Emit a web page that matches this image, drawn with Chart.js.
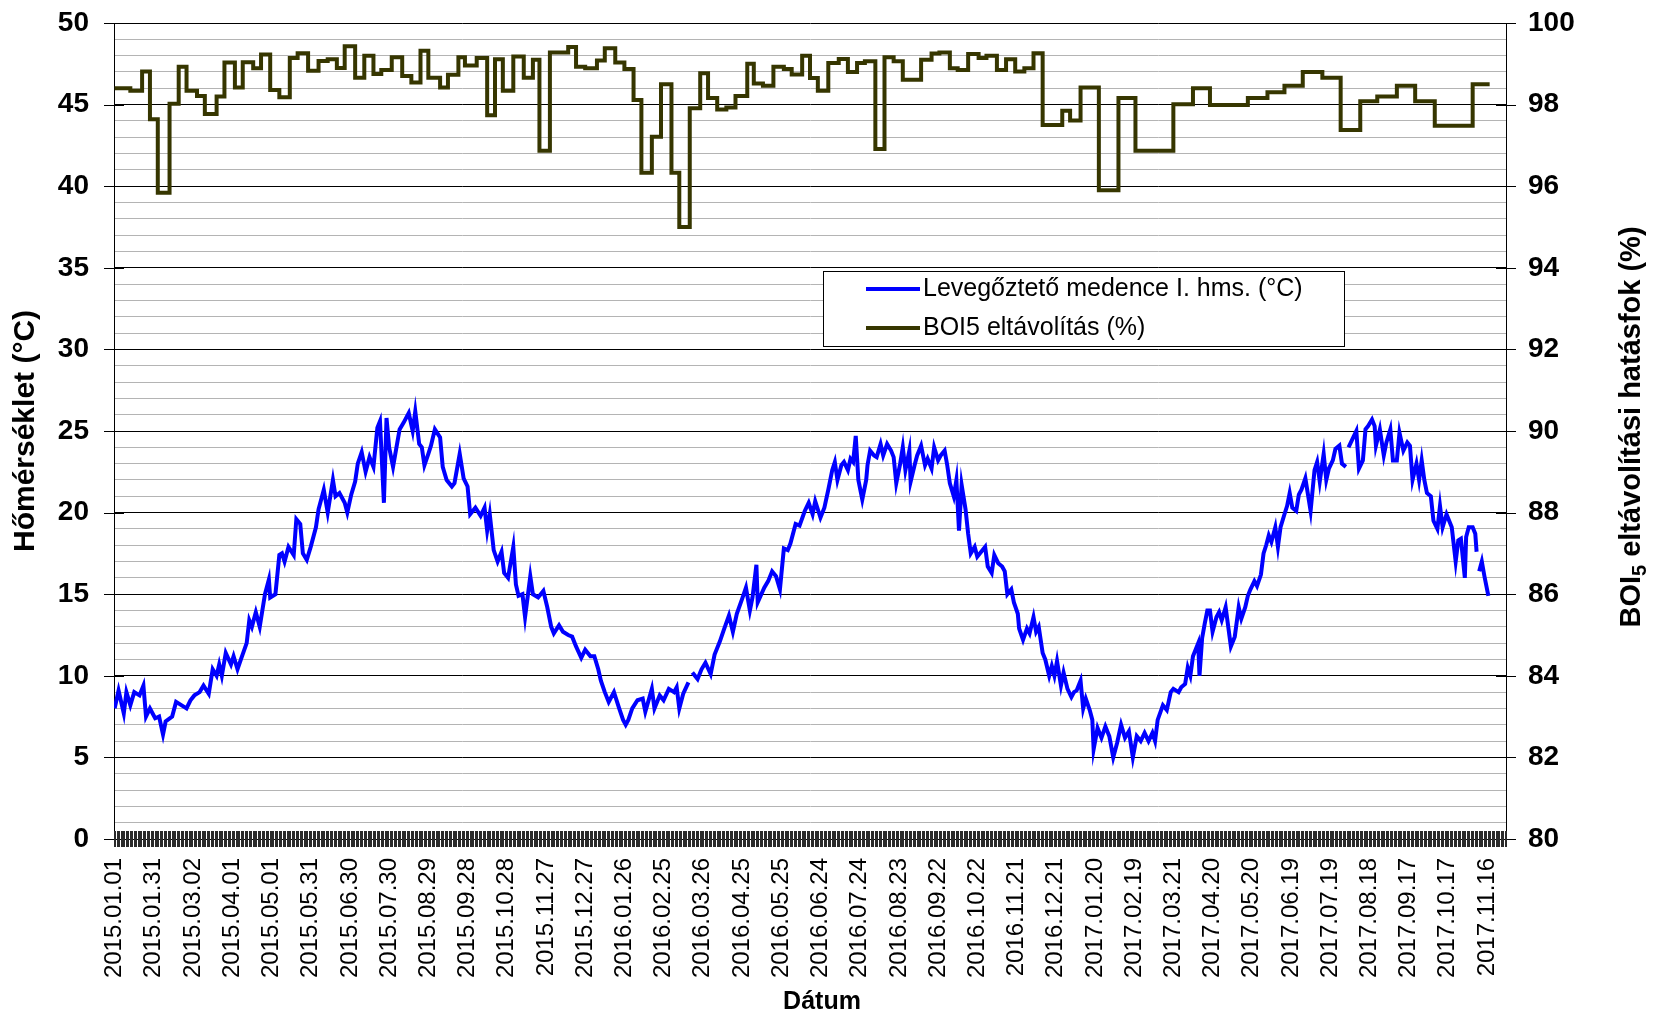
<!DOCTYPE html>
<html>
<head>
<meta charset="utf-8">
<script src="https://cdn.jsdelivr.net/npm/chart.js@4.4.1/dist/chart.umd.min.js"></script>
<style>
  body { margin: 0; background: #fff; }
  #wrap { width: 1653px; height: 1015px; }
</style>
</head>
<body>
<div id="wrap"><canvas id="myCanvas" width="1653" height="1015"></canvas></div>
<script>
// day index = days since 2015.01.01
const startDate = Date.UTC(2015, 0, 1);
const lastDay = 1064;
const labelStep = 30;

const tempLabel = 'Levegőztető medence I. hms. (°C)';
const boiLabel = 'BOI5 eltávolítás (%)';

const tempDays = [
  0, 3, 7, 9, 12, 15, 19, 22, 24, 27, 31, 34, 37, 39, 44, 47, 51, 55, 58, 61, 65, 68, 72, 75, 78, 80, 82, 85, 89, 91, 94, 97,
  101, 103, 105, 108, 111, 113, 115, 118, 119, 123, 126, 128, 130, 133, 137, 139, 142, 144, 147, 150, 154, 156, 160, 163, 167, 169,
  172, 176, 178, 181, 184, 186, 189, 192, 195, 198, 201, 203, 206, 208, 210, 213, 218, 221, 225, 228, 230, 233, 235, 237, 240, 242,
  245, 249, 251, 254, 258, 260, 264, 267, 270, 272, 276, 280, 283, 285, 287, 290, 293, 296, 298, 301, 305, 307, 309, 312, 314, 318,
  320, 324, 328, 331, 334, 336, 340, 343, 347, 350, 353, 357, 360, 364, 367, 370, 372, 375, 378, 382, 386, 389, 391, 393, 396, 400,
  404, 406, 411, 413, 417, 420, 424, 428, 430, 432, 435, 439, 440, 442, 446, 449, 452, 456, 459, 463, 466, 470, 473, 476, 480, 483,
  486, 488, 491, 492, 497, 500, 503, 506, 509, 512, 515, 517, 521, 524, 528, 531, 534, 536, 540, 543, 546, 549, 551, 553, 556, 558,
  561, 563, 565, 567, 569, 572, 575, 576, 578, 581, 583, 586, 588, 591, 594, 596, 598, 601, 603, 605, 608, 609, 612, 614, 617, 620,
  622, 625, 627, 630, 632, 635, 637, 639, 642, 644, 646, 648, 651, 653, 655, 658, 660, 663, 666, 668, 671, 673, 676, 679, 681, 683,
  686, 688, 691, 692, 695, 698, 700, 703, 705, 707, 710, 712, 715, 717, 719, 721, 724, 726, 729, 732, 734, 736, 739, 741, 743, 746,
  748, 749, 752, 755, 758, 761, 764, 767, 770, 773, 776, 779, 782, 785, 788, 791, 794, 796, 798, 802, 805, 808, 810, 814, 816, 819,
  821, 823, 825, 827, 829, 830, 832, 834, 836, 838, 840, 843, 845, 847, 850, 853, 854, 857, 860, 862, 865, 867, 869, 872, 874, 877,
  879, 881, 883, 885, 888, 890, 892, 895, 897, 899, 901, 904, 906, 908, 911, 913, 915, 918, 920, 922, 925, 927, 929, 932, 934, 937,
  939, 942, 943, 944, 947, 950, 952, 955, 957, 959, 962, 964, 965, 968, 971, 973, 976, 978, 981, 983, 986, 989, 991, 993, 996, 998,
  1000, 1002, 1004, 1007, 1009, 1012, 1014, 1016, 1019, 1022, 1023, 1026, 1028, 1030, 1033, 1034, 1036, 1039, 1041, 1042, 1043, 1044,
  1046, 1048, 1051
];
const tempValues = [
  8.0, 9.1, 7.7, 9.0, 8.2, 9.0, 8.8, 9.4, 7.5, 8.0, 7.4, 7.5, 6.4, 7.2, 7.5, 8.4, 8.2, 8.0, 8.5, 8.8, 9.0, 9.4, 8.9, 10.4, 10.0, 10.7, 10.0, 11.4, 10.7, 11.2, 10.4, 11.1,
  12.0, 13.4, 13.0, 13.9, 13.0, 14.0, 15.0, 15.9, 14.8, 15.0, 17.4, 17.5, 17.0, 17.9, 17.4, 19.6, 19.3, 17.5, 17.1, 17.9, 19.1, 20.2, 21.4, 20.0, 22.0, 21.0,
  21.2, 20.6, 20.0, 21.1, 21.9, 23.0, 23.7, 22.5, 23.4, 22.8, 25.2, 25.6, 20.6, 25.8, 24.0, 22.8, 25.1, 25.5, 26.1, 25.0, 26.2, 24.2, 24.0, 22.9, 23.6, 24.1,
  25.1, 24.6, 22.8, 22.0, 21.6, 21.8, 23.6, 22.1, 21.6, 19.9, 20.3, 19.8, 20.3, 18.9, 19.9, 17.7, 17.0, 17.6, 16.3, 16.0, 17.9, 15.6, 14.9, 15.0, 13.6, 16.1,
  15.0, 14.8, 15.2, 14.2, 13.0, 12.6, 13.1, 12.7, 12.5, 12.4, 11.8, 11.1, 11.6, 11.2, 11.2, 10.4, 9.7, 9.0, 8.4, 9.0, 8.0, 7.3, 7.0, 7.3, 8.0, 8.5,
  8.6, 7.8, 9.2, 8.0, 8.8, 8.5, 9.2, 9.0, 9.3, 8.0, 8.9, 9.6, null, 10.2, 9.8, 10.4, 10.8, 10.1, 11.3, 12.1, 12.8, 13.7, 12.7, 13.8, 14.7, 15.4,
  14.0, 14.8, 16.8, 14.5, 15.4, 15.8, 16.4, 16.1, 15.3, 17.8, 17.7, 18.1, 19.3, 19.2, 20.1, 20.6, 19.9, 20.7, 19.7, 20.3, 21.4, 22.6, 23.1, 22.0, 22.9, 23.1,
  22.6, 23.3, 23.1, 24.7, 22.0, 20.8, 22.0, 22.9, 23.8, 23.5, 23.4, 24.2, 23.5, 24.2, 23.8, 23.4, 21.8, 23.0, 24.0, 22.6, 23.8, 21.9, 22.9, 23.5, 24.1, 22.9,
  23.3, 22.7, 24.0, 23.2, 23.5, 23.8, 22.9, 21.8, 21.0, 22.0, 18.9, 21.7, 20.2, 18.7, 17.5, 17.9, 17.3, 17.6, 17.9, 16.7, 16.3, 17.4, 16.9, 16.7, 16.4, 15.0,
  15.3, 14.5, 13.8, 12.9, 12.2, 12.9, 12.6, 13.6, 12.7, 13.0, 11.4, 11.0, 10.0, 10.6, 10.0, 10.9, 9.4, 10.2, 9.2, 8.7, 9.0, 9.1, 9.7, 8.0, 8.6, 7.9,
  7.3, 5.5, 6.8, 6.2, 6.9, 6.3, 5.0, 5.9, 7.0, 6.2, 6.6, 5.0, 6.3, 6.0, 6.5, 6.0, 6.5, 6.0, 7.3, 8.2, 7.9, 9.0, 9.2, 9.0, 9.3, 9.5,
  10.5, 10.0, 11.2, 11.6, 12.0, 10.0, 12.3, 13.2, 14.0, 14.0, 12.7, 13.6, 13.9, 13.4, 14.2, 12.4, 11.8, 12.4, 14.2, 13.5, 14.2, 14.9, 15.3, 15.8, 15.5, 16.2,
  17.5, 18.0, 18.6, 18.2, 19.1, 17.9, 19.1, 19.9, 20.4, 21.2, 20.3, 20.1, 21.1, 21.4, 22.1, 21.1, 20.1, 22.6, 23.1, 21.9, 23.6, 22.0, 22.7, 23.2, 23.9, 24.1,
  23.0, 22.8, null, 24.0, 24.5, 25.0, 22.7, 23.2, 25.1, 25.3, 25.7, 25.3, 24.1, 25.1, 23.5, 24.3, 25.1, 23.2, 23.2, 24.9, 23.8, 24.3, 24.1, 22.0, 23.0, 22.0,
  23.2, 22.0, 21.2, 21.0, 19.5, 19.0, 20.4, 19.1, 19.9, 19.3, 19.1, 17.0, 18.3, 18.4, 16.0, 18.5, 19.1, 19.1, 18.7, 17.6, null, 16.4,
  17.0, 16.1, 14.9
];

// BOI5 removal (%), each value holds from its start day until the next one
const boiDays = [
  0, 12, 21, 27, 33, 42, 49, 55, 63, 69, 78, 84, 92, 98, 106, 112, 119, 126, 134, 140, 148, 156, 163, 170, 176, 184, 191, 198, 204,
  212, 220, 227, 234, 240, 249, 255, 263, 268, 277, 285, 291, 297, 305, 313, 320, 325, 333, 347, 353, 360, 369, 375, 383, 390, 397,
  403, 411, 418, 426, 432, 440, 448, 454, 461, 468, 475, 484, 489, 496, 504, 512, 518, 526, 532, 538, 546, 554, 561, 568, 574, 582,
  589, 596, 603, 617, 625, 631, 639, 645, 653, 661, 667, 675, 682, 689, 696, 703, 710, 725, 731, 739, 753, 768, 781, 810, 825, 838,
  867, 882, 895, 909, 924, 938, 953, 966, 981, 995, 1010, 1039, 1052
];
const boiValues = [
  98.40, 98.34, 98.81, 97.64, 95.84, 98.02, 98.93, 98.34, 98.21, 97.77, 98.20, 99.03, 98.42, 99.04, 98.89, 99.23, 98.36, 98.18, 99.14, 99.26, 98.83, 99.07, 99.11, 98.90, 99.43, 98.66, 99.20, 98.75, 98.85,
  99.16, 98.70, 98.54, 99.32, 98.66, 98.42, 98.73, 99.16, 98.96, 99.14, 97.74, 99.11, 98.34, 99.18, 98.66, 99.10, 96.87, 99.28, 99.41, 98.93, 98.89, 99.08, 99.38, 99.03, 98.87, 98.11,
  96.33, 97.21, 98.50, 96.33, 95.00, 97.91, 98.77, 98.16, 97.88, 97.93, 98.21, 99.00, 98.52, 98.46, 98.93, 98.87, 98.74, 99.20, 98.65, 98.34, 99.02, 99.12, 98.80, 99.02, 99.06, 96.91,
  99.16, 99.06, 98.61, 99.10, 99.25, 99.28, 98.89, 98.85, 99.24, 99.14, 99.20, 98.85, 99.11, 98.81, 98.89, 99.26, 97.50, 97.85, 97.61, 98.42, 95.90, 98.16, 96.87, 98.01, 98.40, 97.99,
  98.16, 98.30, 98.46, 98.80, 98.66, 97.38, 98.08, 98.20, 98.46, 98.08, 97.48, 98.50, 98.50
];

const fontFamily = 'Arial, "Liberation Sans", sans-serif';

function dayToLabel(d) {
  const dt = new Date(startDate + d * 86400000);
  const mm = String(dt.getUTCMonth() + 1).padStart(2, '0');
  const dd = String(dt.getUTCDate()).padStart(2, '0');
  return dt.getUTCFullYear() + '.' + mm + '.' + dd;
}

// keep the tick label padding from pushing the plot area down
function fixWidth(w) {
  return scale => {
    scale.width = w;
    scale.paddingTop = 0;
    scale.paddingBottom = 0;
  };
}

// crossing tick marks, axis titles and the boxed legend
const decorations = {
  id: 'decorations',
  afterDraw(chart) {
    const { ctx, chartArea: a, scales: { x, y, y2 } } = chart;
    ctx.save();
    ctx.strokeStyle = '#000';
    ctx.lineWidth = 1;
    ctx.beginPath();
    for (let v = 0; v <= 50; v += 5) {
      const py = Math.round(y.getPixelForValue(v)) + 0.5;
      ctx.moveTo(a.left - 10, py);
      ctx.lineTo(a.left + 10, py);
    }
    for (let v = 80; v <= 100; v += 2) {
      const py = Math.round(y2.getPixelForValue(v)) + 0.5;
      ctx.moveTo(a.right - 10, py);
      ctx.lineTo(a.right + 10, py);
    }
    ctx.stroke();

    ctx.strokeStyle = '#2a2a2a';
    ctx.beginPath();
    for (let d = -0.5; d <= lastDay + 0.5; d += 1) {
      const px = Math.round(x.getPixelForValue(d)) + 0.5;
      ctx.moveTo(px, a.bottom - 8);
      ctx.lineTo(px, a.bottom + 8);
    }
    ctx.stroke();

    // x title
    ctx.fillStyle = '#000';
    ctx.font = 'bold 25px ' + fontFamily;
    ctx.textAlign = 'center';
    ctx.textBaseline = 'middle';
    ctx.fillText('Dátum', 822, 1002);

    // right axis title, reading bottom to top, with subscript 5
    ctx.translate(1632, (a.top + a.bottom) / 2 - 4);
    ctx.rotate(-Math.PI / 2);
    const big = 'bold 29px ' + fontFamily;
    const small = 'bold 20px ' + fontFamily;
    const p1 = 'BOI', p2 = '5', p3 = ' eltávolítási hatásfok (%)';
    ctx.font = big;
    const w1 = ctx.measureText(p1).width, w3 = ctx.measureText(p3).width;
    ctx.font = small;
    const w2 = ctx.measureText(p2).width;
    const tx = -(w1 + w2 + w3) / 2;
    ctx.textAlign = 'left';
    ctx.font = big;
    ctx.fillText(p1, tx, 0);
    ctx.font = small;
    ctx.fillText(p2, tx + w1, 8);
    ctx.font = big;
    ctx.fillText(p3, tx + w1 + w2, 0);
    ctx.restore();

    // legend box
    ctx.save();
    const box = { left: 823, top: 271, width: 521, height: 75 };
    ctx.fillStyle = '#fff';
    ctx.fillRect(box.left, box.top, box.width, box.height);
    ctx.strokeStyle = '#000';
    ctx.lineWidth = 1;
    ctx.strokeRect(box.left + 0.5, box.top + 0.5, box.width, box.height);
    ctx.font = '25px ' + fontFamily;
    ctx.textBaseline = 'middle';
    ctx.textAlign = 'left';
    chart.data.datasets.forEach((ds, i) => {
      const ly = box.top + 18 + i * 39;
      ctx.strokeStyle = ds.borderColor;
      ctx.lineWidth = 4;
      ctx.beginPath();
      ctx.moveTo(866, ly);
      ctx.lineTo(920, ly);
      ctx.stroke();
      ctx.fillStyle = '#000';
      ctx.fillText(ds.label, 923, ly);
    });
    ctx.restore();
  }
};

const ctx = document.getElementById('myCanvas').getContext('2d');
const chart = new Chart(ctx, {
  type: 'line',
  data: {
    datasets: [{
      label: tempLabel,
      data: tempDays.map((d, i) => ({ x: d, y: tempValues[i] })),
      borderColor: '#0000ff',
      borderWidth: 4,
      pointRadius: 0,
      tension: 0,
      spanGaps: false,
      yAxisID: 'y'
    },
    {
      label: boiLabel,
      data: boiDays.map((d, i) => ({ x: d, y: boiValues[i] })),
      borderColor: '#363600',
      borderWidth: 4,
      pointRadius: 0,
      stepped: true,
      yAxisID: 'y2'
    }]
  },
  options: {
    responsive: false,
    animation: false,
    devicePixelRatio: 1,
    layout: { padding: { top: 23, left: 0, right: 0, bottom: 0 } },
    scales: {
      x: {
        type: 'linear',
        min: -0.5,
        max: lastDay + 0.5,
        afterBuildTicks: scale => {
          const ticks = [];
          for (let d = 0; d <= 1050; d += labelStep) ticks.push({ value: d });
          scale.ticks = ticks;
        },
        afterFit: scale => { scale.height = 176; },
        ticks: {
          autoSkip: false,
          minRotation: 90,
          maxRotation: 90,
          padding: 19,
          color: '#000',
          font: { family: fontFamily, size: 24 },
          callback: v => dayToLabel(v)
        },
        grid: { drawOnChartArea: false, drawTicks: false },
        border: { display: true, color: '#000', width: 1 }
      },
      y: {
        position: 'left',
        min: 0,
        max: 50,
        afterFit: fixWidth(114),
        ticks: {
          stepSize: 1,
          autoSkip: false,
          padding: 25,
          color: '#000',
          font: { family: fontFamily, size: 28, weight: 'bold' },
          callback: v => (v % 5 === 0 ? v : '')
        },
        grid: {
          drawTicks: false,
          color: c => (c.tick.value % 5 === 0 ? '#000' : '#b4b4b4'),
          lineWidth: 1
        },
        border: { display: true, color: '#000', width: 1 },
        title: {
          display: true,
          text: 'Hőmérséklet (°C)',
          color: '#000',
          font: { family: fontFamily, size: 30, weight: 'bold' },
          padding: { top: 8, bottom: 0 }
        }
      },
      y2: {
        position: 'right',
        min: 80,
        max: 100,
        afterFit: fixWidth(147),
        ticks: {
          stepSize: 2,
          padding: 22,
          color: '#000',
          font: { family: fontFamily, size: 28, weight: 'bold' }
        },
        grid: { drawOnChartArea: false, drawTicks: false },
        border: { display: true, color: '#000', width: 1 }
      }
    },
    plugins: {
      legend: { display: false },
      tooltip: { enabled: false }
    }
  },
  plugins: [decorations]
});
</script>
</body>
</html>
